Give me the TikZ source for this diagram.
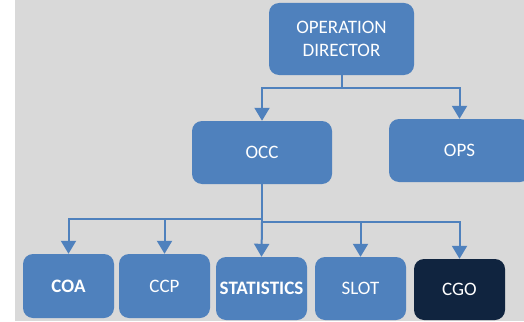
\documentclass[tikz,border=0pt]{standalone}
\usepackage{fontspec}
\setmainfont{Carlito}
\usetikzlibrary{arrows.meta}
\definecolor{boxblue}{HTML}{4F81BD}
\definecolor{boxdark}{HTML}{10243F}
\definecolor{canvas}{HTML}{D9D9D9}
\begin{document}
\begin{tikzpicture}[x=1pt,y={(0pt,-1pt)},
  unit/.style={rectangle, rounded corners=10pt, fill=boxblue, draw=none,
    text=white, inner sep=0pt, align=center,
    font=\fontsize{19}{22.5}\selectfont},
  darkunit/.style={unit, fill=boxdark},
  link/.style={draw=boxblue, line width=2pt,
    -{Triangle[width=15pt,length=13pt]}},
  trunk/.style={draw=boxblue, line width=2pt}]
  \useasboundingbox (0,0) rectangle (524,321);
  \begin{scope}
    \clip (0,0) rectangle (524,321);
    \fill[canvas] (15,0) rectangle (524,321);

    % top level
    \node[unit, minimum width=145pt, minimum height=72pt] (od) at (341.5,39) {OPERATION\\DIRECTOR};

    % second level
    \node[unit, minimum width=140pt, minimum height=63pt] (occ) at (262,152.5) {OCC};
    \node[unit, minimum width=141pt, minimum height=63pt] (ops) at (459.5,150.5) {OPS};

    % third level
    \node[unit, minimum width=91pt, minimum height=64pt, font=\fontsize{19}{22.5}\selectfont\bfseries] (coa) at (68.5,286) {COA};
    \node[unit, minimum width=91pt, minimum height=64pt] (ccp) at (164.5,286) {CCP};
    \node[unit, minimum width=91pt, minimum height=63pt, font=\fontsize{19}{22.5}\selectfont\bfseries] (stat) at (261.5,288.5) {STATISTICS};
    \node[unit, minimum width=91pt, minimum height=63pt] (slot) at (360.5,288.5) {SLOT};
    \node[darkunit, minimum width=91pt, minimum height=61pt] (cgo) at (459.5,289.5) {CGO};

    % junction points
    \coordinate (j0) at (341.5,88);
    \coordinate (j1) at (262,219);
    \coordinate (j2) at (262,222);

    % connectors from the director
    \draw[trunk] (od.south) -- (j0);
    \draw[link] (j0) -| (occ.north);
    \draw[link] (j0) -| (ops.north);

    % connectors from OCC
    \draw[trunk] (occ.south) -- (j2);
    \draw[link] (j1) -| (coa.north);
    \draw[link] (j1) -| (ccp.north);
    \draw[link] (j2) -- (stat.north);
    \draw[link] (j2) -| (slot.north);
    \draw[link] (j2) -| (cgo.north);
  \end{scope}
\end{tikzpicture}
\end{document}
